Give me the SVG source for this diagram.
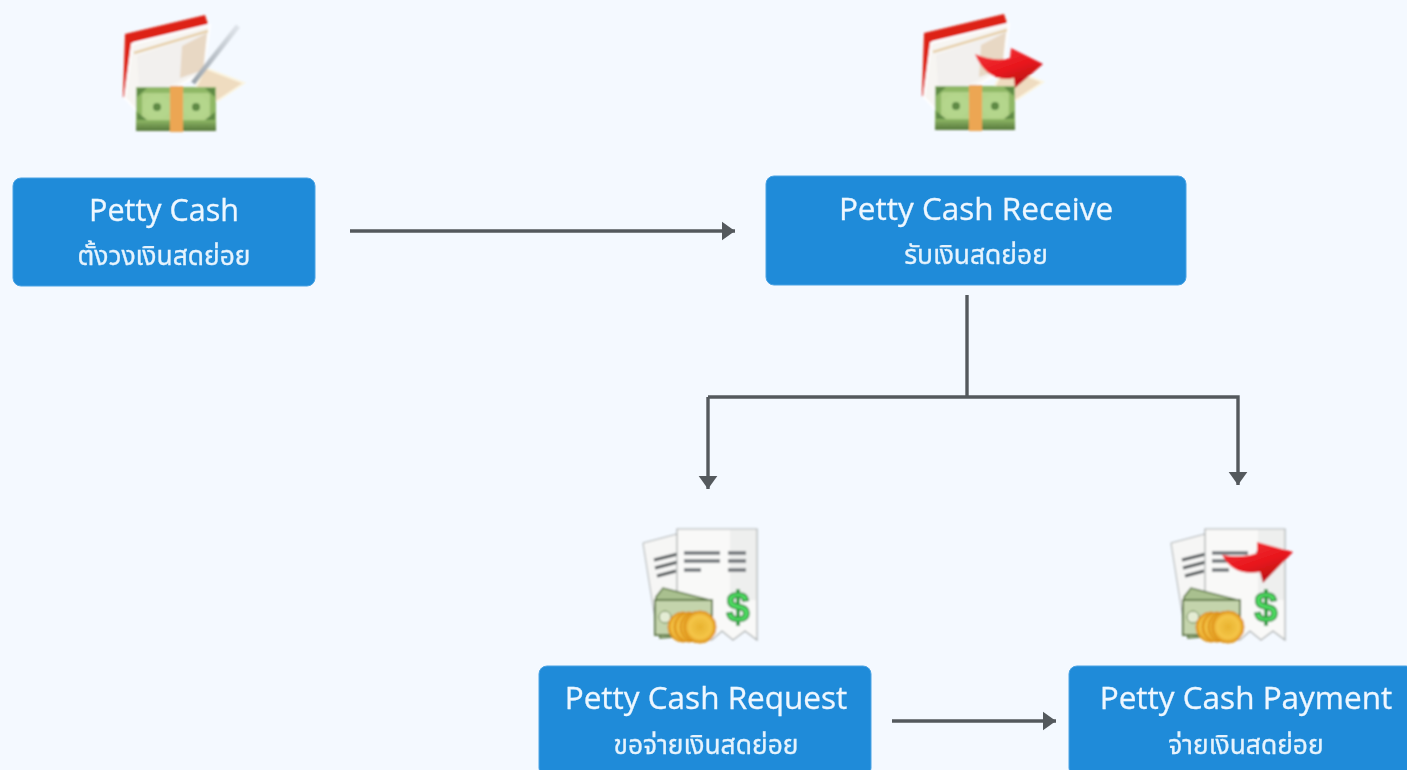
<svg xmlns="http://www.w3.org/2000/svg" width="1407" height="770" viewBox="0 0 1407 770">
<style>
.box{fill:#1f8bd9;stroke:#4aa3e4;stroke-width:1}
.label{filter:url(#soft-text)}
.t1{font-family:"Open Sans","Noto Sans",sans-serif;font-size:31.5px;fill:#eef7ff;stroke:#eef7ff;stroke-width:.3;text-anchor:middle}
.t2{font-family:"Noto Sans Thai","Noto Sans","Open Sans","DejaVu Sans",sans-serif;font-size:26.4px;fill:#e6f3fd;stroke:#e6f3fd;stroke-width:.3;text-anchor:middle}
.c{fill:none;stroke:#54595d;stroke-width:3.4}
.ah{fill:#54595d}
.line{stroke:#6d7276;stroke-width:3.5;fill:none}
</style>
<defs>
<filter id="soft" x="-10%" y="-10%" width="120%" height="120%"><feGaussianBlur stdDeviation="0.8"/></filter>
<filter id="soft-text" x="-5%" y="-10%" width="110%" height="120%"><feGaussianBlur stdDeviation="0.4"/></filter>
<linearGradient id="red" x1="0" y1="0" x2="0.6" y2="1"><stop offset="0" stop-color="#f43a3e"/><stop offset="0.6" stop-color="#e8161c"/><stop offset="1" stop-color="#b80f14"/></linearGradient>
<radialGradient id="coin"><stop offset="0" stop-color="#e8b230"/><stop offset="0.7" stop-color="#f5c648"/><stop offset="1" stop-color="#e0941a"/></radialGradient>
<linearGradient id="pencil" x1="0" y1="1" x2="1" y2="0"><stop offset="0" stop-color="#9aa3ab"/><stop offset="1" stop-color="#dfe4ea"/></linearGradient>
<linearGradient id="bill" x1="0" y1="0" x2="0" y2="1"><stop offset="0" stop-color="#8fb866"/><stop offset="0.75" stop-color="#8fb866"/><stop offset="1" stop-color="#55773b"/></linearGradient>
<marker id="arr" viewBox="0 0 13 19" refX="13" refY="9.5" markerWidth="3.9" markerHeight="5.6" markerUnits="strokeWidth" orient="auto" preserveAspectRatio="none"><path class="ah" d="M0 0L13 9.5L0 19Z"/></marker>
<g id="book">
<path d="M205 68L244 83L217 101L190 100Z" fill="#efdcc0" stroke="#fbf4df" stroke-width="2"/>
<path d="M125 34L205 15L208 24L133 42L129 100L123 97Z" fill="#dd2413"/>
<path d="M125 98L132 44L210 25L203 72L136 110Z" fill="#f7f5f2" stroke="#fff" stroke-width="2"/>
<path d="M137 56L207 33L204 70L140 98Z" fill="#f2f0ee"/>
<path d="M182 46L207 33L203 70L180 78Z" fill="#e8d8c4"/>
<path d="M134 53L208 31" stroke="#e6cfa9" stroke-width="2.5" fill="none"/>
<rect x="136" y="87" width="80" height="44" fill="url(#bill)"/>
<rect x="142" y="93" width="68" height="27" rx="3" fill="#b2d389"/>
<ellipse cx="157" cy="107" rx="13" ry="12" fill="#b4d68c"/>
<ellipse cx="196" cy="107" rx="13" ry="12" fill="#b4d68c"/>
<circle cx="157" cy="107" r="4" fill="#5f8a45"/>
<circle cx="196" cy="107" r="4" fill="#5f8a45"/>
<path d="M137 88l10 0l-10 9ZM215 88l-10 0l10 9ZM137 120l10 0l-10-8ZM215 120l-10 0l10-8Z" fill="#5f8a45"/>
<rect x="170" y="86" width="13" height="46" fill="#eca653"/>
</g>
<g id="receipt">
<path d="M643 543L677 534L692 602L656 625Z" fill="#f6f6f5" stroke="#a9adad" stroke-width="1"/>
<path d="M654 560L678 554M655 568L678 562M657 576L676 571" stroke="#4f5457" stroke-width="3" fill="none"/>
<path d="M677 529H757V640L745 631L733 640L722 631L712 640H677Z" fill="#f9f9f8" stroke="#a9adad" stroke-width="1.2"/>
<path d="M730 530H756V600H730Z" fill="#eeefee"/>
<path class="line" d="M684 553H720M684 561H720M684 570H701M728 553H746M728 561H746M728 570H746"/>
<path d="M656 597L663 588L710 600L712 634L660 638Z" fill="#a9c08f" stroke="#59743f" stroke-width="1.5"/>
<rect x="655" y="600" width="57" height="35" fill="#c4d4ac" stroke="#587240" stroke-width="1.8"/>
<circle cx="665" cy="617" r="6" fill="#e4ecd4" stroke="#6d8753"/>
<circle cx="683" cy="627" r="15" fill="url(#coin)" stroke="#d98b12"/>
<circle cx="689" cy="627" r="15" fill="url(#coin)" stroke="#d98b12"/>
<circle cx="695" cy="627" r="15" fill="url(#coin)" stroke="#d98b12"/>
<circle cx="700" cy="627" r="16" fill="url(#coin)" stroke="#d98b12"/>
<text x="738" y="622" font-family="'Liberation Sans',sans-serif" font-size="42" font-weight="700" fill="#4fdc62" stroke="#1f8a32" stroke-width="1.5" text-anchor="middle">$</text>
</g>
</defs>
<rect width="1407" height="770" fill="#f4f9ff"/>
<g id="connectors">
<path class="c" marker-end="url(#arr)" d="M350 231H735"/>
<path class="c" d="M967 295V397"/>
<path class="c" marker-end="url(#arr)" d="M708 397V489"/>
<path class="c" marker-end="url(#arr)" d="M708 397H1238V485"/>
<path class="c" marker-end="url(#arr)" d="M892 721H1056"/>
</g>
<g id="node-petty-cash">
<g filter="url(#soft)"><use href="#book"/><path d="M193 83L238 26" stroke="url(#pencil)" stroke-width="5" fill="none"/></g>
<rect class="box" x="13" y="178" width="302" height="108" rx="8"/>
<g class="label"><text class="t1" x="164" y="221" style="font-size:30.5px">Petty Cash</text>
<text class="t2" x="164" y="265">ตั้งวงเงินสดย่อย</text></g>
</g>
<g id="node-petty-cash-receive">
<g filter="url(#soft)"><use href="#book" x="799" y="-1"/><path d="M975 54C987 59 999 61 1010 58L1011 48L1043 64L1015 88L1014 78C996 82 982 72 975 54Z" fill="url(#red)"/></g>
<rect class="box" x="766" y="176" width="420" height="109" rx="8"/>
<g class="label"><text class="t1" x="976" y="220">Petty Cash Receive</text>
<text class="t2" x="976" y="264">รับเงินสดย่อย</text></g>
</g>
<g id="node-petty-cash-request">
<g filter="url(#soft)"><use href="#receipt"/></g>
<rect class="box" x="539" y="666" width="332" height="110" rx="8"/>
<g class="label"><text class="t1" x="706" y="709">Petty Cash Request</text>
<text class="t2" x="706" y="754">ขอจ่ายเงินสดย่อย</text></g>
</g>
<g id="node-petty-cash-payment">
<g filter="url(#soft)"><use href="#receipt" x="528"/><path d="M1222 555C1235 557 1247 557 1257 553L1257 542L1293 552L1263 583L1260 572C1243 575 1230 570 1222 555Z" fill="url(#red)"/></g>
<rect class="box" x="1069" y="666" width="345" height="110" rx="8"/>
<g class="label"><text class="t1" x="1246" y="709">Petty Cash Payment</text>
<text class="t2" x="1246" y="754">จ่ายเงินสดย่อย</text></g>
</g>
</svg>
